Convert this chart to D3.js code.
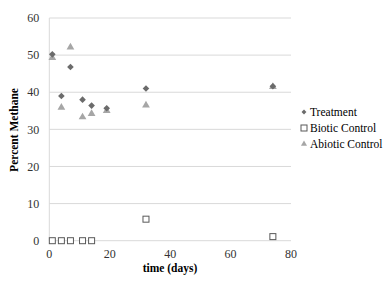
<!DOCTYPE html>
<html>
<head>
<meta charset="utf-8">
<script src="https://cdn.jsdelivr.net/npm/d3@7"></script>
<style>
  body { margin: 0; background: #fff; }
</style>
</head>
<body>
<svg width="387" height="281" font-family="'Liberation Serif', 'Times New Roman', Times, 'DejaVu Serif', serif"></svg>
<script>
// data
const treatmentDays = [1, 4, 7, 11, 14, 19, 32, 74];
const treatment = [50.2, 39, 46.8, 38, 36.4, 35.7, 41, 41.6];
const bioticDays = [1, 4, 7, 11, 14, 32, 74];
const biotic = [0, 0, 0, 0, 0, 5.8, 1.1];
const abioticDays = [1, 4, 7, 11, 14, 19, 32, 74];
const abiotic = [49.3, 35.9, 52.1, 33.3, 34.2, 35, 36.5, 41.5];
const xTicks = [0, 20, 40, 60, 80];
const yTicks = [0, 10, 20, 30, 40, 50, 60];

const svg = d3.select("svg");

// Plot area
const x = d3.scaleLinear().domain([0, 80]).range([49.3, 291]);
const y = d3.scaleLinear().domain([0, 60]).range([240.7, 18]);

// gridlines
svg.append("g")
    .selectAll("line")
    .data(yTicks)
    .join("line")
      .attr("x1", x(0))
      .attr("x2", x(80))
      .attr("y1", d => y(d))
      .attr("y2", d => y(d))
      .attr("stroke", "#d9d9d9")
      .attr("stroke-width", 1);

// left axis line
svg.append("line")
    .attr("x1", x(0)).attr("x2", x(0))
    .attr("y1", y(60)).attr("y2", y(0))
    .attr("stroke", "#d9d9d9");

// tick labels
svg.append("g")
    .selectAll("text")
    .data(yTicks)
    .join("text")
      .attr("x", x(0) - 10)
      .attr("y", d => y(d))
      .attr("dy", "0.35em")
      .attr("text-anchor", "end")
      .attr("font-size", 12)
      .attr("fill", "#333")
      .text(d => d);

svg.append("g")
    .selectAll("text")
    .data(xTicks)
    .join("text")
      .attr("x", d => x(d))
      .attr("y", 258)
      .attr("text-anchor", "middle")
      .attr("font-size", 12)
      .attr("fill", "#333")
      .text(d => d);

// axis titles
svg.append("text")
    .attr("x", 170)
    .attr("y", 272)
    .attr("text-anchor", "middle")
    .attr("font-size", 11.5)
    .attr("font-weight", "bold")
    .text("time (days)");

svg.append("text")
    .attr("transform", "translate(18,130) rotate(-90)")
    .attr("text-anchor", "middle")
    .attr("font-size", 11.5)
    .attr("font-weight", "bold")
    .text("Percent Methane");

// diamond = square turned 45 degrees
const diamond = d3.symbol().type(d3.symbolSquare).size(22);
const triangle = d3.symbol().type(d3.symbolTriangle).size(26);

// series
svg.append("g")
    .selectAll("path")
    .data(abioticDays.map((d, i) => [d, abiotic[i]]))
    .join("path")
      .attr("d", triangle)
      .attr("transform", d => `translate(${x(d[0])},${y(d[1])})`)
      .attr("fill", "#a6a6a6");

svg.append("g")
    .selectAll("path")
    .data(treatmentDays.map((d, i) => [d, treatment[i]]))
    .join("path")
      .attr("d", diamond)
      .attr("transform", d => `translate(${x(d[0])},${y(d[1])}) rotate(45)`)
      .attr("fill", "#6b6b6b");

svg.append("g")
    .selectAll("rect")
    .data(bioticDays.map((d, i) => [d, biotic[i]]))
    .join("rect")
      .attr("x", d => x(d[0]) - 3)
      .attr("y", d => y(d[1]) - 3)
      .attr("width", 6)
      .attr("height", 6)
      .attr("fill", "#fff")
      .attr("stroke", "#595959")
      .attr("stroke-width", 1);

// legend
const legend = svg.append("g").attr("transform", "translate(304,112)");
legend.append("path").attr("d", d3.symbol().type(d3.symbolSquare).size(12))
    .attr("transform", "rotate(45)").attr("fill", "#6b6b6b");
legend.append("text").attr("x", 6).attr("dy", "0.35em").attr("font-size", 11.5).text("Treatment");
legend.append("rect").attr("x", -3).attr("y", 13).attr("width", 6).attr("height", 6)
    .attr("fill", "#fff").attr("stroke", "#595959");
legend.append("text").attr("x", 6).attr("y", 16).attr("dy", "0.35em").attr("font-size", 11.5).text("Biotic Control");
legend.append("path").attr("d", d3.symbol().type(d3.symbolTriangle).size(16))
    .attr("transform", "translate(0,32)").attr("fill", "#a6a6a6");
legend.append("text").attr("x", 6).attr("y", 32).attr("dy", "0.35em").attr("font-size", 11.5).text("Abiotic Control");
</script>
</body>
</html>
